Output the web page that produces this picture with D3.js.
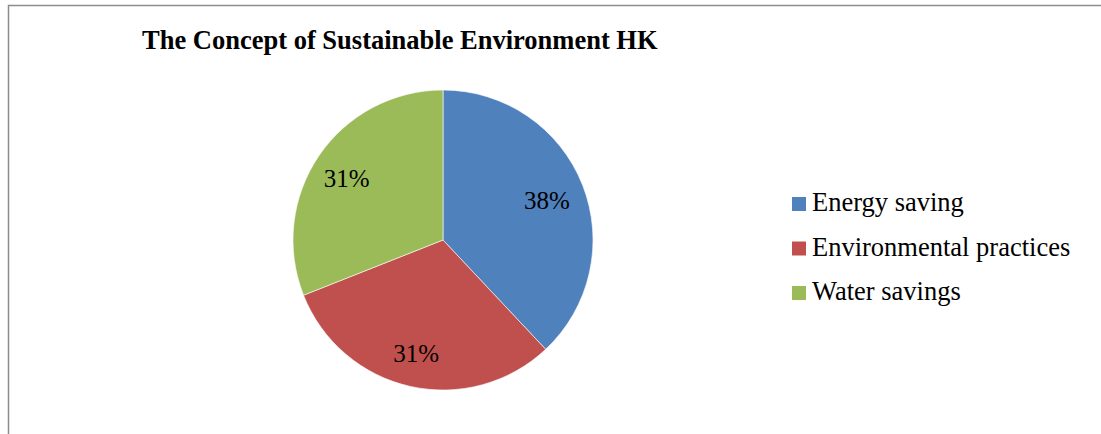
<!DOCTYPE html>
<html>
<head>
<meta charset="utf-8">
<script src="https://cdn.jsdelivr.net/npm/d3@7"></script>
<style>
  html, body { margin: 0; padding: 0; background: #fff; }
  text { font-family: "Liberation Serif", "Times New Roman", Times, "DejaVu Serif", serif; }
</style>
</head>
<body>
<svg id="chart" width="1101" height="434"></svg>
<script>
// Share of respondents by concept of a sustainable environment
const categories = ["Energy saving", "Environmental practices", "Water savings"];
const values = [38, 31, 31];
const colors = ["#4F81BD", "#C0504D", "#9BBB59"];
const title = "The Concept of Sustainable Environment HK";

const serif = '"Liberation Serif", "Times New Roman", Times, "DejaVu Serif", serif';
const svg = d3.select("#chart");

// chart frame
svg.append("rect")
  .attr("x", 8.5).attr("y", 5.5)
  .attr("width", 1120).attr("height", 460)
  .attr("fill", "none")
  .attr("stroke", "#8c8c8c")
  .attr("stroke-width", 1.5);

svg.append("text")
  .attr("x", 142).attr("y", 49)
  .attr("font-family", serif)
  .attr("font-weight", "bold")
  .attr("font-size", 26.5)
  .attr("fill", "#000")
  .text(title);

const cx = 443, cy = 240, radius = 150;

const pie = d3.pie().sort(null).value(d => d);
const arcs = pie(values);
const arc = d3.arc().innerRadius(0).outerRadius(radius);
const labelArc = d3.arc().innerRadius(radius * 0.76).outerRadius(radius * 0.76);

const g = svg.append("g").attr("transform", `translate(${cx},${cy})`);

g.selectAll("path.slice")
  .data(arcs)
  .join("path")
  .attr("class", "slice")
  .attr("d", arc)
  .attr("fill", (d, i) => colors[i])
  .attr("stroke", "#fff")
  .attr("stroke-width", 0.6);

g.selectAll("text.pct")
  .data(arcs)
  .join("text")
  .attr("class", "pct")
  .attr("transform", d => {
    const [x, y] = labelArc.centroid(d);
    return `translate(${x - 2},${y + 2})`;
  })
  .attr("text-anchor", "middle")
  .attr("dy", "0.35em")
  .attr("font-family", serif)
  .attr("font-size", 25)
  .attr("fill", "#000")
  .text(d => `${d.data}%`);

// legend
const legend = svg.append("g").attr("transform", "translate(792,0)");
const rowY = d3.scalePoint().domain(categories).range([211, 300]);

const rows = legend.selectAll("g.row")
  .data(categories)
  .join("g")
  .attr("class", "row")
  .attr("transform", d => `translate(0,${rowY(d)})`);

rows.append("rect")
  .attr("x", 0).attr("y", -14)
  .attr("width", 14).attr("height", 14)
  .attr("fill", (d, i) => colors[i]);

rows.append("text")
  .attr("x", 20).attr("y", 0)
  .attr("font-family", serif)
  .attr("font-size", 26.5)
  .attr("fill", "#000")
  .text(d => d);
</script>
</body>
</html>
